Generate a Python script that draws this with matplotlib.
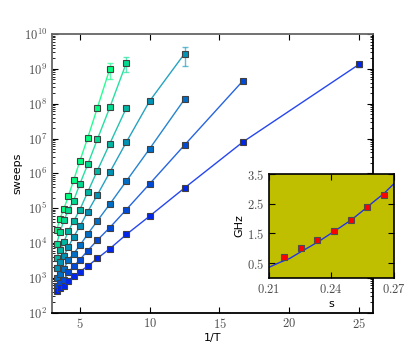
import numpy as np
import matplotlib
matplotlib.use('Agg')
import matplotlib.pyplot as plt
from matplotlib.ticker import FixedLocator, FuncFormatter, NullFormatter

plt.rcParams['mathtext.fontset'] = 'cm'

# 1/T values shared by all curves
inv_T = [3.33, 3.57, 3.85, 4.17, 4.55, 5.0, 5.56, 6.25, 7.14, 8.33, 10.0, 12.5, 16.67, 25.0]

# sweeps for each curve (top/green to bottom/blue)
sweeps_1 = [2.3e4, 5.0e4, 9.5e4, 2.2e5, 6.3e5, 2.3e6, 1.05e7, 7.6e7, 1.0e9]
sweeps_2 = [9.5e3, 2.0e4, 4.5e4, 8.7e4, 1.65e5, 5.0e5, 1.8e6, 9.5e6, 7.8e7, 1.5e9]
sweeps_3 = [3.7e3, 6.3e3, 1.05e4, 2.2e4, 4.2e4, 9.1e4, 2.9e5, 1.2e6, 7.1e6, 7.6e7]
sweeps_4 = [1.95e3, 2.8e3, 4.2e3, 7.6e3, 1.5e4, 3.0e4, 7.9e4, 2.4e5, 1.07e6, 7.9e6, 1.2e8, 2.75e9]
sweeps_5 = [1.0e3, 1.3e3, 1.8e3, 3.2e3, 4.9e3, 8.5e3, 1.8e4, 4.3e4, 1.3e5, 6.0e5, 5.1e6, 1.35e8]
sweeps_6 = [5.6e2, 6.9e2, 8.5e2, 1.45e3, 2.1e3, 3.3e3, 6.0e3, 1.2e4, 2.75e4, 9.1e4, 5.0e5, 6.5e6, 4.5e8]
sweeps_7 = [4.2e2, 5.0e2, 5.8e2, 8.1e2, 1.1e3, 1.5e3, 2.15e3, 3.6e3, 6.8e3, 1.75e4, 5.9e4, 3.8e5, 7.9e6, 1.35e9]
all_sweeps = [sweeps_1, sweeps_2, sweeps_3, sweeps_4, sweeps_5, sweeps_6, sweeps_7]

# error on the last (lowest temperature) point of each curve
last_err = [5e8, 7e8, 4e6, 1.5e9, 8e6, 5e7, 2e8]

# y decades shown on the axis
decades = [2, 3, 4, 5, 6, 7, 8, 9, 10]

# inset data
s_pts = [0.2173, 0.2252, 0.2332, 0.2412, 0.2492, 0.2572, 0.2651]
ghz_pts = [0.70, 1.00, 1.27, 1.58, 1.95, 2.39, 2.80]
s_line = [0.210, 0.215, 0.220, 0.225, 0.230, 0.235, 0.240, 0.245, 0.250, 0.255, 0.260, 0.265, 0.270]
ghz_line = [0.36, 0.52, 0.66, 0.87, 1.07, 1.28, 1.51, 1.74, 1.98, 2.26, 2.55, 2.83, 3.17]

fig = plt.figure(figsize=(4.15, 3.48), dpi=100)
ax = fig.add_axes([0.1253, 0.102, 0.7735, 0.80])

colors = plt.cm.winter(np.linspace(1.0, 0.15, len(all_sweeps)))
for i, ys in enumerate(all_sweeps):
    xs = inv_T[:len(ys)]
    c = colors[i]
    err = [0] * (len(ys) - 1) + [last_err[i]]
    ax.errorbar(xs, ys, yerr=err, fmt='none', ecolor=c, alpha=0.6,
                elinewidth=1, capsize=2.5, zorder=2)
    ax.plot(xs, ys, '-', color=c, lw=1, alpha=0.85, zorder=3)
    ax.plot(xs, ys, 's', mfc=c, mec='0.25', mew=0.8, ms=4.8, zorder=4)

ax.set_yscale('log')
ax.set_xlim(3, 26)
ax.set_ylim(1e2, 1e10)
ax.xaxis.set_major_locator(FixedLocator([5, 10, 15, 20, 25]))
ax.xaxis.set_major_formatter(FuncFormatter(lambda v, p: r'$%d$' % v))
major_y = [10.0 ** d for d in decades]
minor_y = [m * 10.0 ** d for d in decades[:-1] for m in range(2, 10)]
ax.yaxis.set_major_locator(FixedLocator(major_y))
ax.yaxis.set_minor_locator(FixedLocator(minor_y))
ax.yaxis.set_minor_formatter(NullFormatter())
ax.yaxis.set_major_formatter(FuncFormatter(lambda v, p: r'$10^{%d}$' % round(np.log10(v))))
ax.tick_params(which='both', direction='in', top=True, right=True, labelsize=9,
               labelcolor='0.3')
ax.tick_params(which='major', length=4)
ax.tick_params(which='minor', length=2)
ax.spines['left'].set_color('0.4')
ax.spines['top'].set_color('0.4')
for sp in ax.spines.values():
    sp.set_linewidth(1.3)
ax.set_xlabel('1/T', fontsize=8, labelpad=1)
ax.set_ylabel('sweeps', fontsize=8, labelpad=1)

# inset
axi = fig.add_axes([0.648, 0.201, 0.301, 0.299])
axi.set_facecolor('#bfbf00')
axi.plot(s_line, ghz_line, '-', color='#2233ee', lw=1, zorder=2)
axi.plot(s_pts, ghz_pts, 's', mfc='red', mec='0.3', mew=0.8, ms=4.8, zorder=3)
axi.set_xlim(0.21, 0.27)
axi.set_ylim(0, 3.5)
axi.xaxis.set_major_locator(FixedLocator([0.21, 0.24, 0.27]))
axi.yaxis.set_major_locator(FixedLocator([0.5, 1.5, 2.5, 3.5]))
axi.xaxis.set_major_formatter(FuncFormatter(lambda v, p: r'$%.2f$' % v))
axi.yaxis.set_major_formatter(FuncFormatter(lambda v, p: r'$%.1f$' % v))
axi.tick_params(direction='in', top=True, right=True, labelsize=9, length=4,
                labelcolor='0.3')
for sp in axi.spines.values():
    sp.set_linewidth(1.2)
axi.set_xlabel('s', fontsize=8, labelpad=2)
axi.set_ylabel('GHz', fontsize=8, labelpad=2)

fig.savefig('out.png', dpi=100)
